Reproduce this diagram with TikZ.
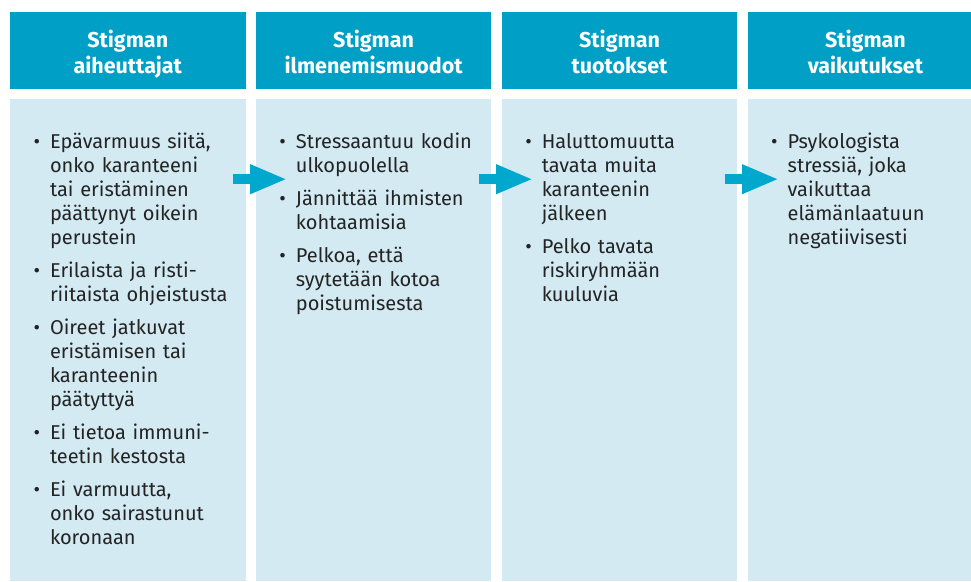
\documentclass[tikz,border=0pt]{standalone}
\usepackage{fontspec}
\setmainfont{Fira Sans}
\usetikzlibrary{arrows.meta,positioning}

\definecolor{stigtumma}{RGB}{0,160,198}
\definecolor{stigvaalea}{RGB}{211,234,242}
\definecolor{stignuoli}{RGB}{0,168,206}
\definecolor{stigteksti}{RGB}{35,35,35}

% lista sarakkeen sisalle
\newenvironment{kohdat}{%
  \setlength{\leftmargini}{40pt}%
  \setlength{\labelsep}{10pt}%
  \begin{itemize}%
    \setlength{\itemsep}{5pt}%
    \setlength{\parsep}{0pt}%
    \raggedright
}{\end{itemize}}

\tikzset{
  otsikko/.style={fill=stigtumma, minimum width=235.5pt, minimum height=77pt, inner sep=0pt},
  otsikkoteksti/.style={text=white, inner sep=0pt, anchor=north, align=center,
    font=\fontsize{21.5}{26}\selectfont\bfseries},
  runko/.style={fill=stigvaalea, minimum width=235.5pt, minimum height=482pt, inner sep=0pt},
  teksti/.style={text=stigteksti, text width=230pt, inner sep=0pt, anchor=base west,
    font=\fontsize{20}{24}\selectfont},
  nuoli/.style={draw=stignuoli, line width=10pt, -{Triangle[length=37pt,width=27pt]}}
}

\begin{document}
\begin{tikzpicture}[x=1pt,y=-1pt]
    \useasboundingbox (0,0) rectangle (971,581);
    % otsikot
    \node[otsikko] (o1) at (127.75,50.5) {};
    \node[otsikko, right=10pt of o1] (o2) {};
    \node[otsikko, right=10pt of o2] (o3) {};
    \node[otsikko, right=10pt of o3] (o4) {};
    \node[otsikkoteksti] (ot1) at ([yshift=-18pt]o1.north) {Stigman\\aiheuttajat};
    \node[otsikkoteksti] (ot2) at ([yshift=-18pt]o2.north) {Stigman\\ilmenemismuodot};
    \node[otsikkoteksti] (ot3) at ([yshift=-18pt]o3.north) {Stigman\\tuotokset};
    \node[otsikkoteksti] (ot4) at ([yshift=-18pt]o4.north) {Stigman\\vaikutukset};
    % rungot
    \node[runko, below=10pt of o1] (r1) {};
    \node[runko, below=10pt of o2] (r2) {};
    \node[runko, below=10pt of o3] (r3) {};
    \node[runko, below=10pt of o4] (r4) {};
    % tekstit
    \node[teksti] (t1) at ([yshift=-17pt]r1.north west) {\begin{kohdat}
        \item Epävarmuus siitä,\\ onko karanteeni\\ tai eristäminen\\ päättynyt oikein\\ perustein
        \item Erilaista ja risti-\\riitaista ohjeistusta
        \item Oireet jatkuvat\\ eristämisen tai\\ karanteenin\\ päätyttyä
        \item Ei tietoa immuni-\\teetin kestosta
        \item Ei varmuutta,\\ onko sairastunut\\ koronaan
      \end{kohdat}};
    \node[teksti] (t2) at ([yshift=-17pt]r2.north west) {\begin{kohdat}
        \item Stressaantuu kodin\\ ulkopuolella
        \item Jännittää ihmisten\\ kohtaamisia
        \item Pelkoa, että\\ syytetään kotoa\\ poistumisesta
      \end{kohdat}};
    \node[teksti] (t3) at ([yshift=-17pt]r3.north west) {\begin{kohdat}
        \item Haluttomuutta\\ tavata muita\\ karanteenin\\ jälkeen
        \item Pelko tavata\\ riskiryhmään\\ kuuluvia
      \end{kohdat}};
    \node[teksti] (t4) at ([yshift=-17pt]r4.north west) {\begin{kohdat}
        \item Psykologista\\ stressiä, joka\\ vaikuttaa\\ elämänlaatuun\\ negatiivisesti
      \end{kohdat}};
    % nuolet
    \coordinate (n1a) at ([xshift=-13pt,yshift=-80pt]r1.north east);
    \coordinate (n1b) at ([xshift=31.5pt,yshift=-80pt]r2.north west);
    \coordinate (n2a) at ([xshift=-13pt,yshift=-80pt]r2.north east);
    \coordinate (n2b) at ([xshift=31.5pt,yshift=-80pt]r3.north west);
    \coordinate (n3a) at ([xshift=-13pt,yshift=-80pt]r3.north east);
    \coordinate (n3b) at ([xshift=31.5pt,yshift=-80pt]r4.north west);
    \draw[nuoli] (n1a) -- (n1b);
    \draw[nuoli] (n2a) -- (n2b);
    \draw[nuoli] (n3a) -- (n3b);
\end{tikzpicture}
\end{document}
